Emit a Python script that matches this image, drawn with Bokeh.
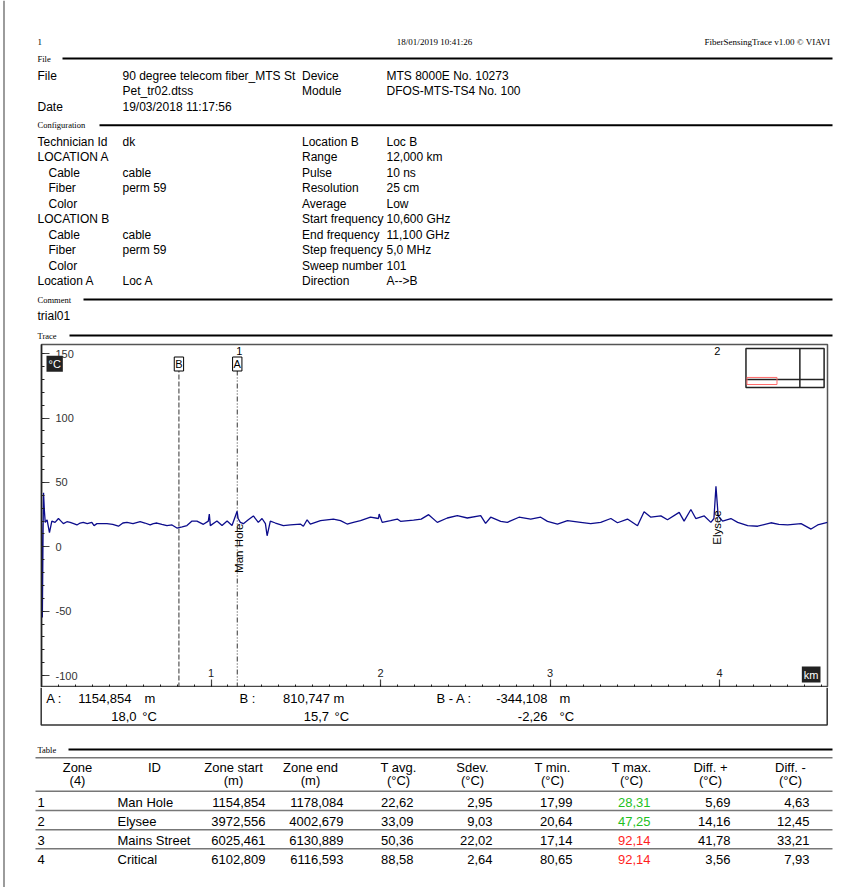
from math import pi
from bokeh.plotting import figure
from bokeh.models import Range1d, FixedTicker, Label
from bokeh.layouts import column, row
from bokeh.core.properties import value
from bokeh.embed import file_html
from bokeh.resources import INLINE

SANS = "Liberation Sans"
SERIF = "Liberation Serif"
X_LEFT = 5          # page content starts right of the page frame line
W = 857 - X_LEFT
H = 887

# ------------------------------------------------------------------ data
header_left = "1"
header_center = "18/01/2019 10:41:26"
header_right = "FiberSensingTrace v1.00  \u00a9 VIAVI"

file_labels = ["File", "", "Date"]
file_values = ["90 degree telecom fiber_MTS St", "Pet_tr02.dtss", "19/03/2018 11:17:56"]
device_labels = ["Device", "Module"]
device_values = ["MTS 8000E No. 10273", "DFOS-MTS-TS4 No. 100"]

config_left_labels = ["Technician Id", "LOCATION A", "Cable", "Fiber", "Color",
                      "LOCATION B", "Cable", "Fiber", "Color", "Location A"]
config_left_indent = [0, 0, 1, 1, 1, 0, 1, 1, 1, 0]
config_left_values = ["dk", "", "cable", "perm 59", "", "", "cable", "perm 59", "", "Loc A"]
config_right_labels = ["Location B", "Range", "Pulse", "Resolution", "Average",
                       "Start frequency", "End frequency", "Step frequency",
                       "Sweep number", "Direction"]
config_right_values = ["Loc B", "12,000 km", "10 ns", "25 cm", "Low", "10,600 GHz",
                       "11,100 GHz", "5,0 MHz", "101", "A-->B"]
comment_text = "trial01"

# trace (distance in km, temperature in degC)
trace_km = [0.000, 0.005, 0.009, 0.012, 0.017, 0.022, 0.033, 0.047, 0.061, 0.080,
            0.100, 0.115, 0.129, 0.150, 0.169, 0.190, 0.209, 0.228, 0.246, 0.270,
            0.297, 0.310, 0.327, 0.355, 0.386, 0.420, 0.454, 0.480, 0.504, 0.540,
            0.582, 0.610, 0.641, 0.660, 0.681, 0.710, 0.740, 0.770, 0.799, 0.830,
            0.858, 0.888, 0.917, 0.955, 0.984, 0.990, 0.996, 1.035, 1.065, 1.095,
            1.124, 1.154, 1.160, 1.173, 1.191, 1.220, 1.250, 1.279, 1.301, 1.321,
            1.331, 1.350, 1.380, 1.427, 1.468, 1.508, 1.527, 1.545, 1.567, 1.586,
            1.646, 1.722, 1.764, 1.803, 1.840, 1.882, 1.941, 1.988, 1.992, 2.010,
            2.059, 2.099, 2.118, 2.195, 2.240, 2.284, 2.335, 2.394, 2.453, 2.512,
            2.591, 2.620, 2.650, 2.709, 2.748, 2.817, 2.886, 2.945, 2.985, 3.044,
            3.103, 3.181, 3.240, 3.299, 3.359, 3.398, 3.457, 3.516, 3.555, 3.595,
            3.654, 3.693, 3.762, 3.791, 3.831, 3.860, 3.910, 3.949, 3.967, 3.979,
            3.992, 4.018, 4.067, 4.107, 4.166, 4.225, 4.303, 4.350, 4.402, 4.481,
            4.540, 4.579, 4.637]
trace_c = [18.0, -55.0, 8.0, 42.0, 28.0, 19.0, 21.0, 11.0, 20.0, 19.0,
           22.0, 20.0, 18.0, 19.5, 19.0, 18.0, 17.0, 18.5, 19.0, 18.0,
           19.0, 16.5, 18.0, 18.0, 18.0, 17.5, 16.0, 18.5, 19.0, 18.0,
           19.5, 18.5, 17.0, 18.0, 18.5, 17.5, 16.5, 17.0, 14.6, 15.5,
           16.5, 20.0, 20.0, 17.5, 20.0, 25.5, 16.5, 20.0, 16.5, 20.0,
           16.5, 27.6, 22.0, 19.0, 18.0, 21.0, 24.0, 19.0, 22.0, 18.0,
           8.6, 20.0, 18.5, 16.5, 17.0, 17.5, 17.7, 16.0, 21.0, 17.7,
           20.3, 21.6, 20.3, 17.7, 19.0, 20.3, 23.0, 22.0, 25.5, 19.0,
           20.3, 21.6, 19.8, 20.8, 21.5, 25.0, 19.0, 22.4, 24.2, 22.4,
           24.2, 18.2, 23.0, 19.8, 19.0, 23.0, 21.6, 23.0, 19.8, 17.7,
           20.3, 19.0, 18.0, 19.0, 22.0, 18.7, 21.6, 16.4, 27.3, 23.0,
           24.0, 21.0, 26.8, 20.0, 29.0, 22.0, 24.0, 19.0, 22.0, 47.0,
           24.0, 20.0, 22.0, 19.0, 16.4, 16.0, 18.7, 17.5, 17.0, 18.0,
           13.8, 17.0, 19.0]

km_ticks = [1, 2, 3, 4]
c_ticks = [-100, -50, 0, 50, 100, 150]

cursor_A_m, cursor_A_c = 1154.854, 18.0
cursor_B_m, cursor_B_c = 810.747, 15.7
delta_m, delta_c = -344.108, -2.26

# table
zone_no = ["1", "2", "3", "4"]
zone_id = ["Man Hole", "Elysee", "Mains Street", "Critical"]
zone_start = [1154.854, 3972.556, 6025.461, 6102.809]
zone_end = [1178.084, 4002.679, 6130.889, 6116.593]
t_avg = [22.62, 33.09, 50.36, 88.58]
t_sdev = [2.95, 9.03, 22.02, 2.64]
t_min = [17.99, 20.64, 17.14, 80.65]
t_max = [28.31, 47.25, 92.14, 92.14]
diff_plus = [5.69, 14.16, 41.78, 3.56]
diff_minus = [4.63, 12.45, 33.21, 7.93]
t_max_colors = ["#1ec01e", "#1ec01e", "#ff1e1e", "#ff1e1e"]
table_head1 = ["Zone", "ID", "Zone start", "Zone end", "T avg.", "Sdev.", "T min.", "T max.", "Diff. +", "Diff. -"]
table_head2 = ["(4)", "", "(m)", "(m)", "(\u00b0C)", "(\u00b0C)", "(\u00b0C)", "(\u00b0C)", "(\u00b0C)", "(\u00b0C)"]


def fmt(v, d):
    return f"{v:.{d}f}".replace(".", ",")


def no_align(p):
    if "frame_align" in p.properties():
        p.frame_align = False


def page_fig(top, bottom, left=X_LEFT, right=857):
    p = figure(width=right - left, height=bottom - top, x_range=Range1d(left, right),
               y_range=Range1d(bottom, top), x_axis_type=None, y_axis_type=None,
               output_backend="svg", toolbar_location=None, min_border=0)
    p.outline_line_color = None
    p.grid.visible = False
    p.background_fill_color = "white"
    p.border_fill_color = "white"
    no_align(p)
    return p


def put(p, x, y, s, size="12px", font=SANS, align="left", color="black"):
    p.text(x=[x], y=[y], text=[s], text_font=value(font), text_font_size=size,
           text_align=align, text_baseline="middle", text_color=color)


def section(p, name, y, line_from):
    put(p, 37, y, name, "8.5px", SERIF)
    p.segment(x0=[line_from], y0=[y], x1=[832], y1=[y], line_color="black", line_width=2)


# ------------------------------------------------------------------ page frame line (left edge)
p0 = page_fig(0, H, 0, X_LEFT)
p0.segment(x0=[3.5], y0=[0], x1=[3.5], y1=[H], line_color="#666666", line_width=1.3)

# ------------------------------------------------------------------ header
p1 = page_fig(0, 340)
put(p1, 37, 41, header_left, "9px", SERIF)
put(p1, 434, 41, header_center, "9px", SERIF, "center")
put(p1, 832, 41, header_right, "9px", SERIF, "right")

section(p1, "File", 58, 62)
file_y = [75, 90.5, 106]
for i, (lab, val) in enumerate(zip(file_labels, file_values)):
    put(p1, 37, file_y[i], lab)
    put(p1, 122, file_y[i], val)
for i, (lab, val) in enumerate(zip(device_labels, device_values)):
    put(p1, 301.5, file_y[i], lab)
    put(p1, 386, file_y[i], val)

section(p1, "Configuration", 124.7, 99)
for i in range(len(config_left_labels)):
    y = 141 + i * 15.52
    put(p1, 37 + 11 * config_left_indent[i], y, config_left_labels[i])
    put(p1, 122, y, config_left_values[i])
    put(p1, 301.5, y, config_right_labels[i])
    put(p1, 386, y, config_right_values[i])

section(p1, "Comment", 299, 83)
put(p1, 37, 315, comment_text)
section(p1, "Trace", 335, 69)

# ------------------------------------------------------------------ trace
x0, x1 = 0.0, 4.637
y0, y1 = -109.3, 157.2
p2 = figure(width=W, height=347, x_range=Range1d(x0, x1), y_range=Range1d(y0, y1),
            output_backend="svg", toolbar_location=None,
            min_border_left=41 - X_LEFT, min_border_right=30, min_border_top=4, min_border_bottom=0)
no_align(p2)
p2.grid.visible = False
p2.outline_line_color = "#555555"
p2.outline_line_width = 1.5
p2.background_fill_color = "white"
p2.border_fill_color = "white"

xa = p2.xaxis[0]
xa.ticker = FixedTicker(ticks=km_ticks, minor_ticks=[i / 10 for i in range(47)])
ya = p2.yaxis[0]
ya.ticker = FixedTicker(ticks=c_ticks, minor_ticks=list(range(-100, 151, 10)))
for ax in (xa, ya):
    ax.major_tick_in = 8
    ax.major_tick_out = 0
    ax.minor_tick_in = 3
    ax.minor_tick_out = 0
    ax.axis_line_color = "#222222"
    ax.axis_line_width = 1.5
    ax.major_tick_line_color = "#444444"
    ax.major_tick_line_width = 1.2
    ax.minor_tick_line_color = "#222222"
# km labels sit inside the frame, just above the ticks
xa.major_label_standoff = -19
xa.major_label_text_font = SANS
xa.major_label_text_font_size = "11px"
xa.major_label_text_color = "#222222"
# degC labels are left-aligned inside the frame: drawn as labels below
ya.major_label_text_color = None
ya.major_label_standoff = 0
ya.major_label_text_font_size = "11px"

for v in c_ticks:
    p2.add_layout(Label(x=x0, y=v, x_offset=14, text=str(v), text_font=SANS,
                        text_font_size="11px", text_color="#333333",
                        text_align="left", text_baseline="middle"))
p2.add_layout(Label(x=x0, y=150, x_offset=5, y_offset=-10, text="\u00b0C", text_font=SANS,
                    text_font_size="11px", text_color="white", background_fill_color="#222222",
                    padding=2, text_align="left", text_baseline="middle"))
p2.add_layout(Label(x=x1, y=y0, x_offset=-7, y_offset=13, text="km", text_font=SANS,
                    text_font_size="11px", text_color="white", background_fill_color="#222222",
                    padding=2, text_align="right", text_baseline="middle"))

# cursors
cA = cursor_A_m / 1000
cB = cursor_B_m / 1000
p2.segment(x0=[cB], y0=[y0], x1=[cB], y1=[137], line_color="#333333", line_width=1, line_dash="5 2")
p2.segment(x0=[cA], y0=[y0], x1=[cA], y1=[137], line_color="#333333", line_width=1, line_dash="5 2 1 2 1 2")
for name, cx in (("B", cB), ("A", cA)):
    p2.add_layout(Label(x=cx, y=y1, y_offset=-19.5, text=name, text_font=SANS,
                        text_font_size="11px", text_color="black", background_fill_color="white",
                        border_line_color="black", border_line_width=1, padding=1,
                        text_align="center", text_baseline="middle"))

# trace line
p2.line(trace_km, trace_c, line_color="#0c0c8c", line_width=1.3)

# zones inside the visible span
for i in range(len(zone_no)):
    zc = (zone_start[i] + zone_end[i]) / 2000
    if zc > x1:
        continue
    p2.add_layout(Label(x=zc, y=y1, y_offset=-6, text=zone_no[i], text_font=SANS,
                        text_font_size="11px", text_color="black",
                        text_align="center", text_baseline="middle"))
    p2.add_layout(Label(x=zc, y=t_avg[i], y_offset=-6, angle=pi / 2, text=zone_id[i],
                        text_font=SANS, text_font_size="11.5px", text_color="black",
                        text_align="right", text_baseline="middle"))

# overview inset (top right)
p2.quad(left=[4.156], right=[4.617], bottom=[123.8], top=[154.1],
        fill_color="white", line_color="#222222", line_width=1.5)
p2.segment(x0=[4.474, 4.156], y0=[123.8, 130.0], x1=[4.474, 4.617], y1=[154.1, 130.0],
           line_color="#222222", line_width=1.5)
p2.quad(left=[4.162], right=[4.339], bottom=[126.1], top=[131.6],
        fill_color=None, line_color="#ff6a6a", line_width=1)

# ------------------------------------------------------------------ bottom (cursor box + table)
p3 = page_fig(687, H)
p3.multi_line(xs=[[40.7, 40.7, 826.7, 826.7]], ys=[[687, 724.5, 724.5, 687]],
              line_color="#333333", line_width=1.5)
r1, r2 = 698, 716
put(p3, 45.7, r1, "A :", "13px")
put(p3, 131, r1, fmt(cursor_A_m, 3), "13px", align="right")
put(p3, 144, r1, "m", "13px")
put(p3, 136, r2, fmt(cursor_A_c, 1), "13px", align="right")
put(p3, 141.7, r2, "\u00b0C", "13px")
put(p3, 239, r1, "B :", "13px")
put(p3, 329.5, r1, fmt(cursor_B_m, 3), "13px", align="right")
put(p3, 333, r1, "m", "13px")
put(p3, 328.5, r2, fmt(cursor_B_c, 1), "13px", align="right")
put(p3, 334, r2, "\u00b0C", "13px")
put(p3, 436, r1, "B - A :", "13px")
put(p3, 547, r1, fmt(delta_m, 3), "13px", align="right")
put(p3, 559, r1, "m", "13px")
put(p3, 547, r2, fmt(delta_c, 2), "13px", align="right")
put(p3, 559, r2, "\u00b0C", "13px")

section(p3, "Table", 749, 68)
line_ys = [757.3, 790.7, 810, 829.3, 848.3]
p3.segment(x0=[35] * len(line_ys), y0=line_ys, x1=[832] * len(line_ys), y1=line_ys,
           line_color="#777777", line_width=1.5)
head_cx = [77, 154, 233, 310, 398, 472, 552, 631, 710, 790]
for cx, h1, h2 in zip(head_cx, table_head1, table_head2):
    put(p3, cx, 766.7, h1, "13px", align="center")
    put(p3, cx, 780, h2, "13px", align="center")

row_y = [801.7, 821, 840.3, 859]
num_cols = [(zone_start, 3, 265), (zone_end, 3, 343), (t_avg, 2, 413), (t_sdev, 2, 492),
            (t_min, 2, 572), (t_max, 2, 650), (diff_plus, 2, 730), (diff_minus, 2, 809)]
for i, y in enumerate(row_y):
    put(p3, 37, y, zone_no[i], "13px")
    put(p3, 117, y, zone_id[i], "13px")
    for col, dec, xr in num_cols:
        color = t_max_colors[i] if col is t_max else "black"
        put(p3, xr, y, fmt(col[i], dec), "13px", align="right", color=color)

layout = row(p0, column(p1, p2, p3, spacing=0), spacing=0)
open("out.html", "w").write(file_html(layout, INLINE))
